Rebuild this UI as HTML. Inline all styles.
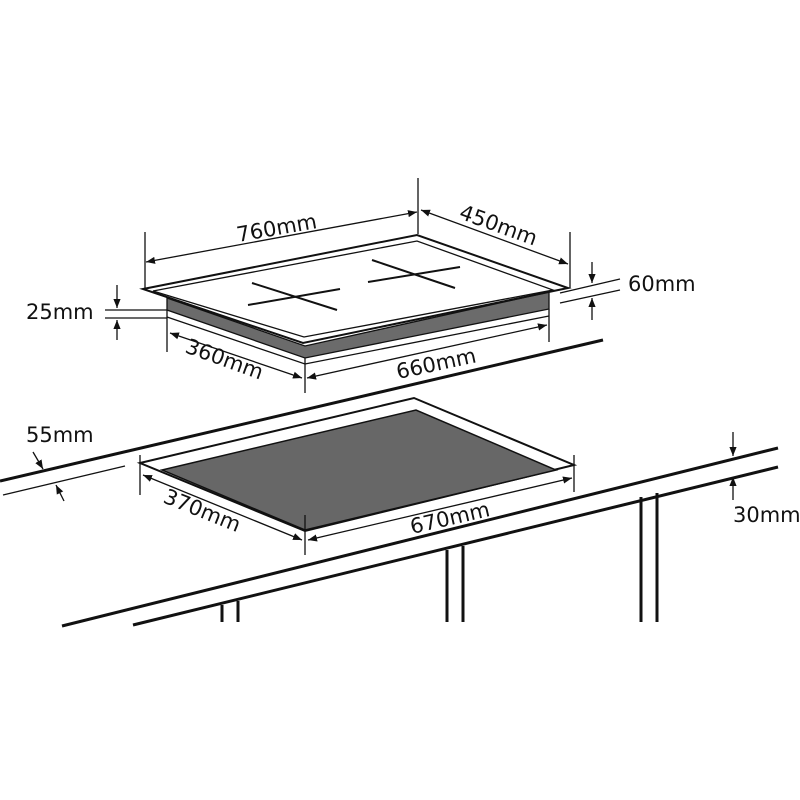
<!DOCTYPE html>
<html><head><style>body{margin:0;background:#fff}svg{display:block}text{font-family:"DejaVu Sans","Liberation Sans",sans-serif;font-size:21px;fill:#111}</style></head><body>
<svg width="800" height="800" viewBox="0 0 800 800" xmlns="http://www.w3.org/2000/svg">
<defs><marker id="a" viewBox="0 0 10 10" refX="10" refY="5" markerWidth="9" markerHeight="9" orient="auto-start-reverse" markerUnits="userSpaceOnUse"><path d="M0,1 L10,5 L0,9 z" fill="#111"/></marker></defs>
<g stroke="#111" fill="none" stroke-width="1.3">
<!-- top hob -->
<polygon points="167,298 305,346 549,292 549,309 305,358 167,310" fill="#6b6b6b" stroke="#111"/>
<polyline points="167,317 305,364 549,316" />
<polygon points="143,289 417,235 568,288 303,343" fill="#fff" stroke-width="2"/>
<polygon points="153,291 417,241 553,290 304,337" fill="#fff" stroke-width="1.3"/>
<line x1="252" y1="283" x2="337" y2="310" stroke-width="2"/><line x1="248" y1="305" x2="340" y2="289" stroke-width="2"/>
<line x1="372" y1="260" x2="455" y2="288" stroke-width="2"/><line x1="368" y1="282" x2="460" y2="267" stroke-width="2"/>
<!-- dims top -->
<line x1="145" y1="232" x2="145" y2="288"/><line x1="418" y1="178" x2="418" y2="234"/><line x1="570" y1="232" x2="570" y2="288"/>
<line x1="146" y1="262" x2="417" y2="212" marker-start="url(#a)" marker-end="url(#a)"/>
<line x1="421" y1="210" x2="568" y2="264" marker-start="url(#a)" marker-end="url(#a)"/>
<line x1="560" y1="293" x2="620" y2="279"/><line x1="560" y1="303" x2="620" y2="290"/>
<line x1="592" y1="262" x2="592" y2="283" marker-end="url(#a)"/><line x1="592" y1="320" x2="592" y2="298" marker-end="url(#a)"/>
<line x1="105" y1="310" x2="167" y2="310"/><line x1="105" y1="318" x2="167" y2="318"/>
<line x1="117" y1="285" x2="117" y2="308" marker-end="url(#a)"/><line x1="117" y1="340" x2="117" y2="320" marker-end="url(#a)"/>
<line x1="167" y1="310" x2="167" y2="352"/><line x1="305" y1="358" x2="305" y2="393"/><line x1="549" y1="309" x2="549" y2="342"/>
<line x1="170" y1="333" x2="302" y2="378" marker-start="url(#a)" marker-end="url(#a)"/>
<line x1="307" y1="378" x2="547" y2="325" marker-start="url(#a)" marker-end="url(#a)"/>
<!-- counter -->
<line x1="0" y1="481" x2="603" y2="340" stroke-width="3"/>
<line x1="3" y1="495" x2="125" y2="466"/>
<line x1="33" y1="452" x2="43" y2="469" marker-end="url(#a)"/><line x1="64" y1="501" x2="56" y2="485" marker-end="url(#a)"/>
<polygon points="140,463 414,398 574,465 305,531" fill="#fff" stroke-width="2"/>
<polygon points="162,470 416,410 556,470 305,530" fill="#676767" stroke-width="1.5"/>
<line x1="140" y1="455" x2="140" y2="495"/><line x1="574" y1="455" x2="574" y2="492"/><line x1="305" y1="515" x2="305" y2="555"/>
<line x1="143" y1="475" x2="302" y2="540" marker-start="url(#a)" marker-end="url(#a)"/>
<line x1="308" y1="540" x2="572" y2="478" marker-start="url(#a)" marker-end="url(#a)"/>
<line x1="62" y1="626" x2="778" y2="448" stroke-width="3"/>
<line x1="133" y1="625" x2="778" y2="467" stroke-width="3"/>
<g stroke-width="3"><line x1="222" y1="605" x2="222" y2="622"/><line x1="238" y1="601" x2="238" y2="622"/>
<line x1="447" y1="550" x2="447" y2="622"/><line x1="463" y1="546" x2="463" y2="622"/>
<line x1="641" y1="497" x2="641" y2="622"/><line x1="657" y1="493" x2="657" y2="622"/></g>
<line x1="733" y1="432" x2="733" y2="456" marker-end="url(#a)"/><line x1="733" y1="500" x2="733" y2="477" marker-end="url(#a)"/>
</g>
<text x="238" y="242" transform="rotate(-10 238 242)">760mm</text>
<text x="458" y="218" transform="rotate(20 458 218)">450mm</text>
<text x="628" y="291">60mm</text>
<text x="26" y="319">25mm</text>
<text x="184" y="352" transform="rotate(20 184 352)">360mm</text>
<text x="398" y="379" transform="rotate(-12 398 379)">660mm</text>
<text x="26" y="442">55mm</text>
<text x="162" y="502" transform="rotate(22 162 502)">370mm</text>
<text x="412" y="534" transform="rotate(-13 412 534)">670mm</text>
<text x="733" y="522">30mm</text>
</svg>
</body></html>
